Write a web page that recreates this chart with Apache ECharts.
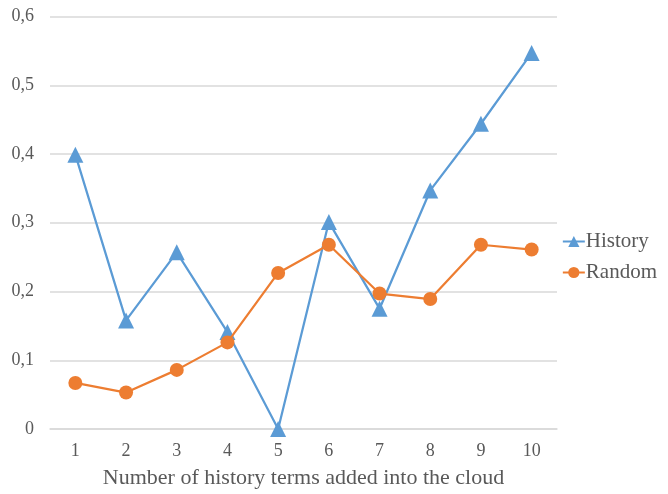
<!DOCTYPE html>
<html>
<head>
<meta charset="utf-8">
<script src="https://cdn.jsdelivr.net/npm/echarts@6/dist/echarts.min.js"></script>
<style>
  html, body { margin: 0; padding: 0; background: #fff; overflow: hidden; }
  #chart { width: 668px; height: 494px; }
</style>
</head>
<body>
<div id="chart"></div>
<script>
// Number of history terms added into the cloud
const categories = ['1', '2', '3', '4', '5', '6', '7', '8', '9', '10'];
const historyValues = [0.399, 0.158, 0.257, 0.141, 0.0, 0.301, 0.175, 0.347, 0.444, 0.547];
const randomValues = [0.067, 0.053, 0.086, 0.126, 0.227, 0.268, 0.197, 0.189, 0.268, 0.261];
const yTicks = { min: 0, max: 0.6, interval: 0.1 };

const textColor = '#595959';
const fontFamily = '"Liberation Serif", "Times New Roman", serif';

const chart = echarts.init(document.getElementById('chart'));
chart.setOption({
  animation: false,
  textStyle: { fontFamily: fontFamily, color: textColor },
  grid: { left: 50, right: 111, top: 16.5, bottom: 60, containLabel: false },
  legend: {
    orient: 'vertical',
    right: 6,
    top: 226,
    itemGap: 10,
    itemWidth: 22,
    itemHeight: 14,
    textStyle: { fontFamily: fontFamily, color: textColor, fontSize: 21, padding: [0, 0, 0, -4] },
    data: ['History', 'Random']
  },
  xAxis: {
    type: 'category',
    data: categories,
    boundaryGap: true,
    axisLine: { show: true, lineStyle: { color: '#d9d9d9', width: 1.5 } },
    axisTick: { show: false },
    axisLabel: { color: textColor, fontSize: 18, margin: 13, fontFamily: fontFamily },
    name: 'Number of history terms added into the cloud',
    nameLocation: 'middle',
    nameGap: 38,
    nameTextStyle: { color: textColor, fontSize: 22, fontFamily: fontFamily }
  },
  yAxis: {
    type: 'value',
    min: yTicks.min,
    max: yTicks.max,
    interval: yTicks.interval,
    axisLine: { show: false },
    axisTick: { show: false },
    splitLine: { show: true, lineStyle: { color: '#d9d9d9', width: 1.5 } },
    axisLabel: {
      color: textColor,
      fontSize: 18,
      margin: 16,
      fontFamily: fontFamily,
      formatter: v => (Math.round(v * 10) / 10).toString().replace('.', ',')
    }
  },
  series: [
    {
      name: 'History',
      type: 'line',
      data: historyValues,
      symbol: 'triangle',
      symbolSize: 16,
      lineStyle: { color: '#5B9BD5', width: 2.25 },
      itemStyle: { color: '#5B9BD5' },
      z: 2
    },
    {
      name: 'Random',
      type: 'line',
      data: randomValues,
      symbol: 'circle',
      symbolSize: 14,
      lineStyle: { color: '#ED7D31', width: 2.25 },
      itemStyle: { color: '#ED7D31' },
      z: 3
    }
  ]
});
</script>
</body>
</html>
